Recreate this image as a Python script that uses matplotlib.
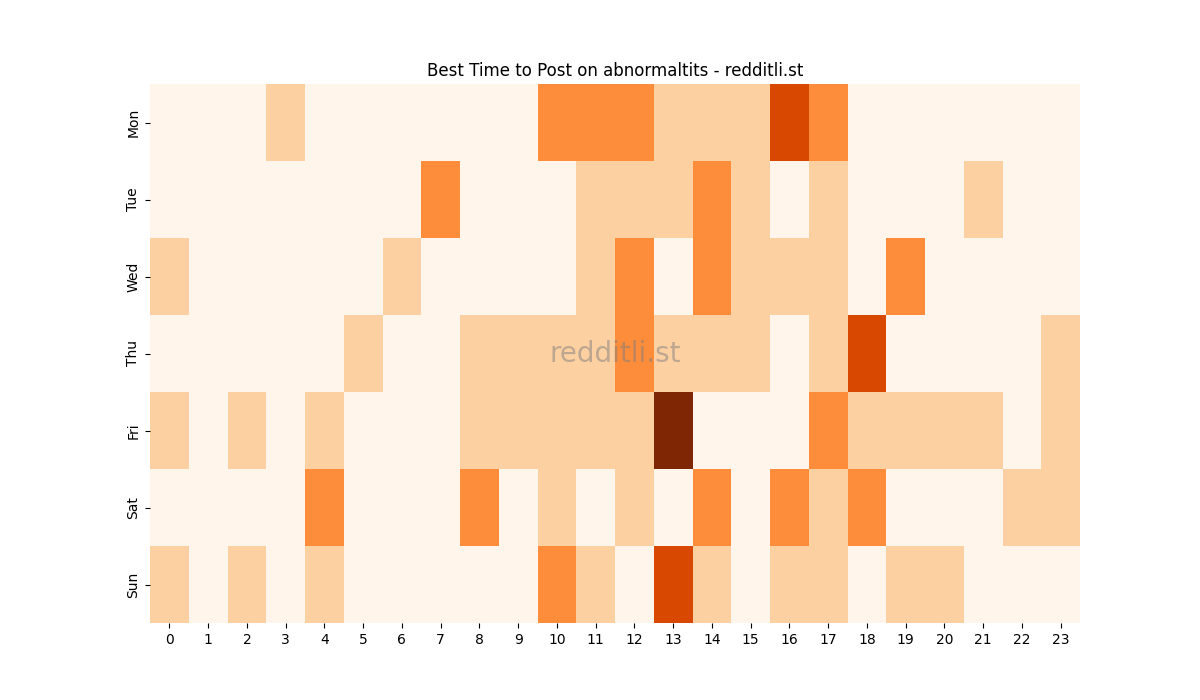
import matplotlib
matplotlib.use("Agg")
import matplotlib.pyplot as plt
import seaborn as sns
import pandas as pd

days = ["Mon", "Tue", "Wed", "Thu", "Fri", "Sat", "Sun"]
hours = list(range(24))

# posts per hour slot
mon = [0, 0, 0, 1, 0, 0, 0, 0, 0, 0, 2, 2, 2, 1, 1, 1, 3, 2, 0, 0, 0, 0, 0, 0]
tue = [0, 0, 0, 0, 0, 0, 0, 2, 0, 0, 0, 1, 1, 1, 2, 1, 0, 1, 0, 0, 0, 1, 0, 0]
wed = [1, 0, 0, 0, 0, 0, 1, 0, 0, 0, 0, 1, 2, 0, 2, 1, 1, 1, 0, 2, 0, 0, 0, 0]
thu = [0, 0, 0, 0, 0, 1, 0, 0, 1, 1, 1, 1, 2, 1, 1, 1, 0, 1, 3, 0, 0, 0, 0, 1]
fri = [1, 0, 1, 0, 1, 0, 0, 0, 1, 1, 1, 1, 1, 4, 0, 0, 0, 2, 1, 1, 1, 1, 0, 1]
sat = [0, 0, 0, 0, 2, 0, 0, 0, 2, 0, 1, 0, 1, 0, 2, 0, 2, 1, 2, 0, 0, 0, 1, 1]
sun = [1, 0, 1, 0, 1, 0, 0, 0, 0, 0, 2, 1, 0, 3, 1, 0, 1, 1, 0, 1, 1, 0, 0, 0]

df = pd.DataFrame([mon, tue, wed, thu, fri, sat, sun], index=days, columns=hours)

fig, ax = plt.subplots(figsize=(12, 7), dpi=100)
sns.heatmap(df, cmap="Oranges", cbar=False, ax=ax)
ax.set_title("Best Time to Post on abnormaltits - redditli.st")

# watermark
ax.text(0.5, 0.5, "redditli.st", transform=ax.transAxes, ha="center", va="center",
        fontsize=20, color="gray", alpha=0.5)

plt.savefig("out.png")
